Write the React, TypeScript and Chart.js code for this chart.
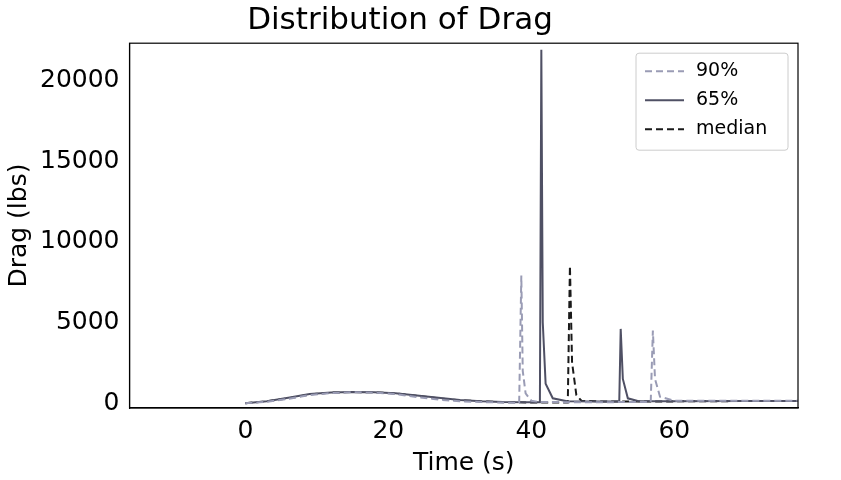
import React, { useEffect, useRef } from 'react'
import { Chart, registerables, type ChartConfiguration } from 'chart.js'

Chart.register(...registerables)

const t90 = [0, 3, 6, 9, 12, 15, 18, 21, 24, 27, 30, 33, 36, 38.3, 38.6, 38.8, 39.2, 40, 41, 45, 50, 55, 56.7, 57.0, 57.3, 58, 60, 70, 78]
const v90 = [0, 90, 260, 500, 630, 680, 660, 560, 380, 220, 120, 70, 40, 30, 7900, 2000, 600, 150, 80, 60, 60, 70, 80, 4500, 1500, 400, 150, 150, 150]
const t65 = [0, 3, 6, 9, 12, 15, 18, 21, 24, 27, 30, 33, 36, 39, 41.2, 41.4, 41.6, 42, 43, 45, 50, 52.3, 52.5, 52.8, 53.5, 55, 60, 70, 78]
const v65 = [0, 120, 330, 560, 660, 690, 680, 620, 480, 330, 200, 120, 70, 50, 50, 21900, 5000, 1200, 300, 120, 100, 100, 4600, 1500, 300, 120, 120, 130, 140]
const tMed = [0, 3, 6, 9, 12, 15, 18, 21, 24, 27, 30, 33, 36, 40, 45.1, 45.4, 45.7, 46.3, 47, 50, 60, 70, 78]
const vMed = [0, 110, 300, 540, 650, 690, 670, 600, 450, 300, 180, 110, 60, 40, 40, 8500, 2500, 500, 150, 100, 110, 130, 140]
const labels = ['90%', '65%', 'median']
const xTicks = [0, 20, 40, 60]
const yTicks = [0, 5000, 10000, 15000, 20000]

const pts = (t: number[], v: number[]) => t.map((x, i) => ({ x, y: v[i] }))

const legendBox = {
  id: 'legendBox',
  afterDraw(chart: Chart) {
    const { ctx, chartArea } = chart
    ctx.save()
    ctx.strokeStyle = '#000'
    ctx.lineWidth = 1.2
    ctx.strokeRect(chartArea.left, chartArea.top, chartArea.right - chartArea.left, chartArea.bottom - chartArea.top)
    const w = 152, h = 97
    const x0 = chartArea.right - w - 10, y0 = chartArea.top + 10
    ctx.fillStyle = 'rgba(255,255,255,0.85)'
    ctx.strokeStyle = '#cccccc'
    ctx.lineWidth = 1
    ctx.beginPath()
    ctx.roundRect(x0, y0, w, h, 3)
    ctx.fill(); ctx.stroke()
    ctx.font = '19px "DejaVu Sans"'
    ctx.textBaseline = 'middle'
    chart.data.datasets.forEach((ds: any, i) => {
      const y = y0 + 18 + i * 29
      ctx.strokeStyle = ds.borderColor
      ctx.lineWidth = 2
      ctx.setLineDash(ds.borderDash || [])
      ctx.beginPath(); ctx.moveTo(x0 + 9, y); ctx.lineTo(x0 + 48, y); ctx.stroke()
      ctx.setLineDash([])
      ctx.fillStyle = '#000'
      ctx.fillText(ds.label, x0 + 60, y)
    })
    ctx.restore()
  },
}

export default function App() {
  const canvasRef = useRef<HTMLCanvasElement>(null)

  useEffect(() => {
    if (!canvasRef.current) return
    const font = { family: 'DejaVu Sans', size: 25 }
    const cfg: ChartConfiguration = {
      type: 'line',
      data: {
        datasets: [
          { label: labels[0], data: pts(t90, v90), borderColor: '#9a9cb5', borderDash: [7, 4], borderWidth: 2, pointRadius: 0, tension: 0 },
          { label: labels[1], data: pts(t65, v65), borderColor: '#4f5064', borderWidth: 2, pointRadius: 0, tension: 0 },
          { label: labels[2], data: pts(tMed, vMed), borderColor: '#1a1a1a', borderDash: [7, 4], borderWidth: 2, pointRadius: 0, tension: 0 },
        ],
      },
      options: {
        responsive: false,
        animation: false,
        layout: { padding: { left: 2, right: 43, top: 0, bottom: 2 } },
        plugins: {
          legend: { display: false },
          tooltip: { enabled: false },
          title: { display: true, text: 'Distribution of Drag', color: '#000', font: { family: 'DejaVu Sans', size: 31, weight: 'normal' }, padding: { top: 2, bottom: 4 } },
        },
        scales: {
          x: {
            type: 'linear', min: -16.2, max: 77.3,
            afterBuildTicks: (s: any) => { s.ticks = xTicks.map(value => ({ value })) },
            grid: { display: false, drawTicks: true, tickLength: 6, tickColor: '#000' },
            border: { color: '#000', width: 1.2 },
            ticks: { color: '#000', font, maxRotation: 0, padding: 2 },
            title: { display: true, text: 'Time (s)', color: '#000', font: { family: 'DejaVu Sans', size: 25 }, padding: 0 },
          },
          y: {
            min: -300, max: 22300,
            afterBuildTicks: (s: any) => { s.ticks = yTicks.map(value => ({ value })) },
            grid: { display: false, drawTicks: true, tickLength: 6, tickColor: '#000' },
            border: { color: '#000', width: 1.2 },
            ticks: { color: '#000', font, padding: 4, callback: (v: any) => String(v) },
            title: { display: true, text: 'Drag (lbs)', color: '#000', font: { family: 'DejaVu Sans', size: 25 }, padding: 2 },
          },
        },
      },
      plugins: [legendBox],
    }
    const chart = new Chart(canvasRef.current, cfg)
    return () => { chart.destroy() }
  }, [])

  return (
    <div style={{ position: 'fixed', left: 0, top: 0, width: 841, height: 480, background: '#fff' }}>
      <canvas ref={canvasRef} width={841} height={480} style={{ width: 841, height: 480 }} />
    </div>
  )
}
